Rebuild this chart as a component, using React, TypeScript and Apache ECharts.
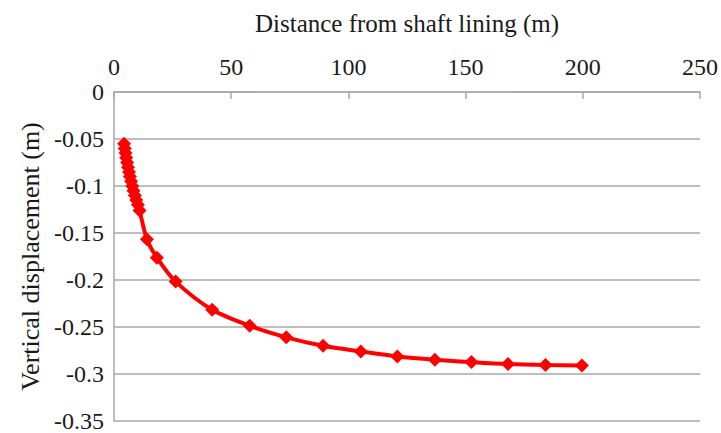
import React, { useEffect, useRef } from "react";
import * as echarts from "echarts";

const distance: number[] = [
  4.3, 4.6, 4.9, 5.2, 5.6, 6.0, 6.4, 6.8, 7.3, 7.8, 8.3, 8.9, 9.5, 10.2, 10.9,
  14.05, 18.3, 26.3, 41.9, 57.9, 73.5, 89.2, 105.3, 120.9, 136.9, 152.5, 168.1, 184.1, 199.6,
];
const displacement: number[] = [
  -0.055, -0.06, -0.065, -0.07, -0.075, -0.08, -0.085, -0.09, -0.095, -0.1, -0.105,
  -0.11, -0.115, -0.12, -0.126, -0.1567, -0.1762, -0.2017, -0.2317, -0.2487, -0.261, -0.27,
  -0.276, -0.2813, -0.2848, -0.2873, -0.2894, -0.2905, -0.291,
];
const xTitle = "Distance from shaft lining (m)";
const yTitle = "Vertical displacement (m)";

export default function App() {
  const ref = useRef<HTMLDivElement>(null);
  useEffect(() => {
    if (!ref.current) return;
    const chart = echarts.init(ref.current, undefined, { renderer: "svg" });
    const font = "Liberation Serif";
    const gray = "#a8a8a8";
    const txt = "#1a1a1a";
    chart.setOption({
      animation: false,
      backgroundColor: "#ffffff",
      textStyle: { fontFamily: font },
      grid: { left: 114, right: 16, top: 92, bottom: 11 },
      xAxis: {
        type: "value",
        position: "top",
        min: 0,
        max: 250,
        interval: 50,
        name: xTitle,
        nameLocation: "middle",
        nameGap: 56,
        nameTextStyle: { fontFamily: font, fontSize: 25, color: txt },
        axisLine: { show: true, lineStyle: { color: gray, width: 1.5 } },
        axisTick: { show: true, inside: true, length: 7, lineStyle: { color: gray, width: 1.5 } },
        axisLabel: { fontFamily: font, fontSize: 24, color: txt, margin: 13 },
        splitLine: { show: false },
      },
      yAxis: {
        type: "value",
        min: -0.35,
        max: 0,
        interval: 0.05,
        name: yTitle,
        nameLocation: "middle",
        nameGap: 67,
        nameRotate: 90,
        nameTextStyle: { fontFamily: font, fontSize: 26, color: txt },
        axisLine: { show: true, lineStyle: { color: gray, width: 1.5 } },
        axisTick: { show: false },
        axisLabel: { fontFamily: font, fontSize: 24, color: txt, margin: 10 },
        splitLine: { show: true, lineStyle: { color: gray, width: 1.5 } },
      },
      series: [
        {
          type: "line",
          data: distance.map((d, i) => [d, displacement[i]]),
          smooth: 0.3,
          symbol: "diamond",
          symbolSize: 14,
          itemStyle: { color: "#ff0000" },
          lineStyle: { color: "#ff0000", width: 4 },
        },
      ],
    });
    return () => chart.dispose();
  }, []);
  return (
    <div
      ref={ref}
      style={{ position: "absolute", left: 0, top: 0, width: 721, height: 433 }}
    />
  );
}
